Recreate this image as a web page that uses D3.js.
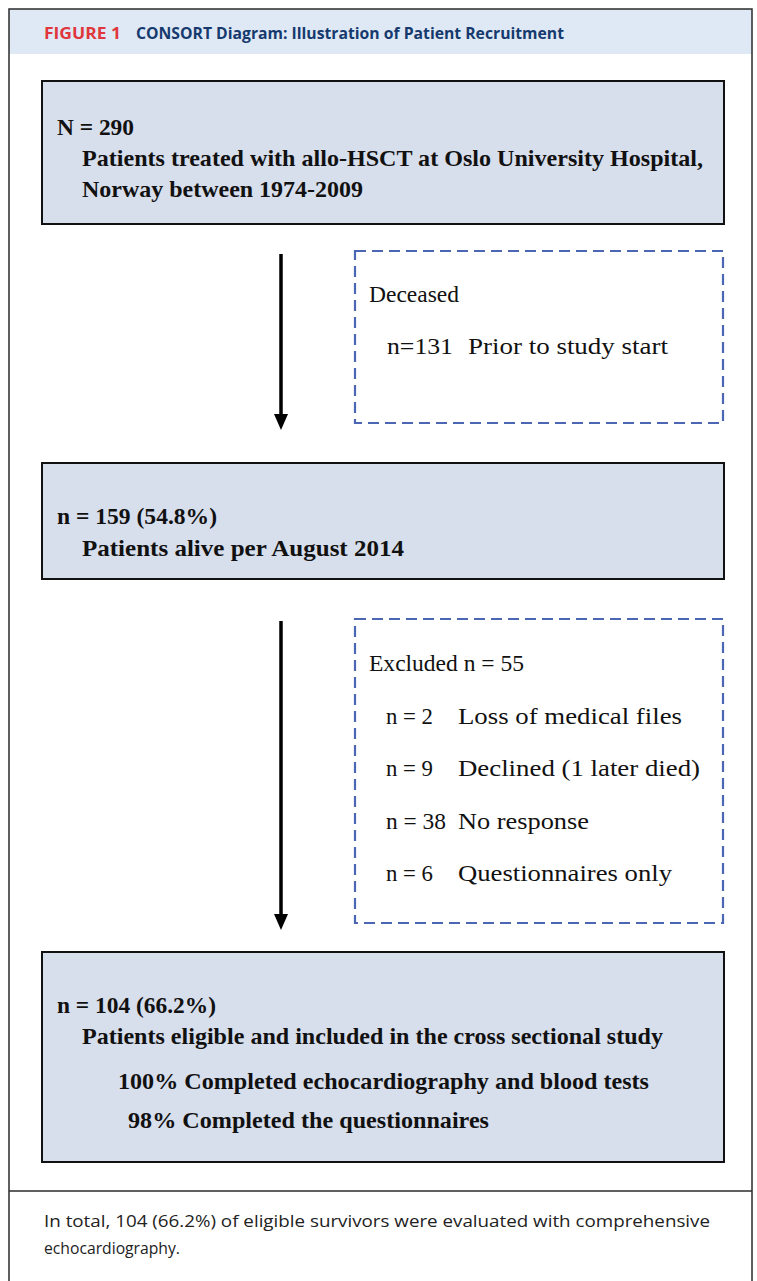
<!DOCTYPE html>
<html>
<head>
<meta charset="utf-8">
<script src="https://cdn.jsdelivr.net/npm/d3@7"></script>
<style>
  body { margin: 0; background: #fff; }
  svg { display: block; }
</style>
</head>
<body>
<div id="chart"></div>
<script>
// figure text
const figureLabel = 'FIGURE 1';
const figureTitle = 'CONSORT Diagram: Illustration of Patient Recruitment';
const captionLines = [
  'In total, 104 (66.2%) of eligible survivors were evaluated with comprehensive',
  'echocardiography.'
];

// main flow stages
const stageCounts = ['N = 290', 'n = 159 (54.8%)', 'n = 104 (66.2%)'];
const stageLabels = [
  ['Patients treated with allo-HSCT at Oslo University Hospital,', 'Norway between 1974-2009'],
  ['Patients alive per August 2014'],
  ['Patients eligible and included in the cross sectional study']
];
const stageNotes = [[], [], ['100% Completed echocardiography and blood tests', '98% Completed the questionnaires']];

// side boxes
const sideTitles = ['Deceased', 'Excluded n = 55'];
const deceasedCounts = ['n=131'];
const deceasedReasons = ['Prior to study start'];
const excludedCounts = ['n = 2', 'n = 9', 'n = 38', 'n = 6'];
const excludedReasons = ['Loss of medical files', 'Declined (1 later died)', 'No response', 'Questionnaires only'];

const W = 757, H = 1281;
const svg = d3.select('#chart').append('svg')
  .attr('width', W).attr('height', H);

// header band + frame
svg.append('rect').attr('x', 9).attr('y', 9).attr('width', 743).attr('height', 45)
  .attr('fill', '#dfe9f5');
svg.append('rect').attr('x', 9).attr('y', 9).attr('width', 743).attr('height', H + 20)
  .attr('fill', 'none').attr('stroke', '#2b2b2b').attr('stroke-width', 1.5);
svg.append('line').attr('x1', 9).attr('x2', 752).attr('y1', 1191).attr('y2', 1191)
  .attr('stroke', '#2b2b2b').attr('stroke-width', 1.5);

const hdrFont = '"Open Sans", "Noto Sans", sans-serif';
svg.append('text').attr('x', 44).attr('y', 39)
  .attr('font-family', hdrFont).attr('font-weight', 'bold').attr('font-size', 15.5)
  .attr('fill', '#e0363c').attr('textLength', 77).attr('lengthAdjust', 'spacingAndGlyphs')
  .text(figureLabel);
svg.append('text').attr('x', 136).attr('y', 39)
  .attr('font-family', hdrFont).attr('font-weight', 'bold').attr('font-size', 16)
  .attr('fill', '#163a6e').attr('textLength', 428).attr('lengthAdjust', 'spacingAndGlyphs')
  .text(figureTitle);

// layout: stage index -> box geometry
const boxX = 42, boxW = 682;
const stageTop = [81, 463, 952];
const stageHeight = [143, 116, 210];

const serif = '"Liberation Serif", "Times New Roman", serif';

stageCounts.forEach((c, i) => {
  svg.append('rect').attr('x', boxX).attr('y', stageTop[i])
    .attr('width', boxW).attr('height', stageHeight[i])
    .attr('fill', '#d7deec').attr('stroke', '#111').attr('stroke-width', 2);
});

const boldText = (x, yy, str, len) => {
  const t = svg.append('text').attr('x', x).attr('y', yy)
    .attr('font-family', serif).attr('font-weight', 'bold')
    .attr('font-size', 24).attr('fill', '#111').text(str);
  if (len) t.attr('textLength', len).attr('lengthAdjust', 'spacingAndGlyphs');
  return t;
};

// stage 1
boldText(57, 135, stageCounts[0], 77);
boldText(82, 166, stageLabels[0][0], 621);
boldText(82, 197, stageLabels[0][1], 281);
// stage 2
boldText(57, 524, stageCounts[1], 160);
boldText(82, 556, stageLabels[1][0], 322);
// stage 3
boldText(57, 1013, stageCounts[2], 159);
boldText(82, 1044, stageLabels[2][0], 581);
boldText(118, 1089, stageNotes[2][0], 531);
boldText(128, 1128, stageNotes[2][1], 361);

// arrows
const arrows = [[254, 430], [621, 930]];
arrows.forEach(([a, b]) => {
  svg.append('line').attr('x1', 281).attr('x2', 281).attr('y1', a).attr('y2', b - 14)
    .attr('stroke', '#000').attr('stroke-width', 3.5);
  svg.append('path').attr('d', `M274,${b - 16} L288,${b - 16} L281,${b} Z`).attr('fill', '#000');
});

// dashed side boxes
const side = [[251, 172], [619, 304]];
side.forEach(([t, h]) => {
  svg.append('rect').attr('x', 355).attr('y', t).attr('width', 368).attr('height', h)
    .attr('fill', 'none').attr('stroke', '#4b67b4').attr('stroke-width', 2.2)
    .attr('stroke-dasharray', '11,6');
});

const plainText = (x, yy, str, len) => {
  const t = svg.append('text').attr('x', x).attr('y', yy)
    .attr('font-family', serif).attr('font-size', 23).attr('fill', '#111').text(str);
  if (len) t.attr('textLength', len).attr('lengthAdjust', 'spacingAndGlyphs');
  return t;
};

plainText(369, 302, sideTitles[0], 90);
plainText(387, 354, deceasedCounts[0], 66);
plainText(468, 354, deceasedReasons[0], 200);

plainText(369, 671, sideTitles[1], 155);
const countLen = [47, 47, 60, 47];
const reasonLen = [224, 242, 131, 214];
const rowY = d3.scalePoint().domain(d3.range(excludedCounts.length)).range([724, 881]);
excludedCounts.forEach((c, i) => {
  plainText(386, rowY(i), c, countLen[i]);
  plainText(458, rowY(i), excludedReasons[i], reasonLen[i]);
});

// caption
const capLen = [666, 136];
captionLines.forEach((s, i) => {
  svg.append('text').attr('x', 44).attr('y', 1227 + i * 27)
    .attr('font-family', '"Open Sans", "Noto Sans", sans-serif').attr('font-size', 16.5)
    .attr('fill', '#222').attr('textLength', capLen[i]).attr('lengthAdjust', 'spacingAndGlyphs')
    .text(s);
});
</script>
</body>
</html>
